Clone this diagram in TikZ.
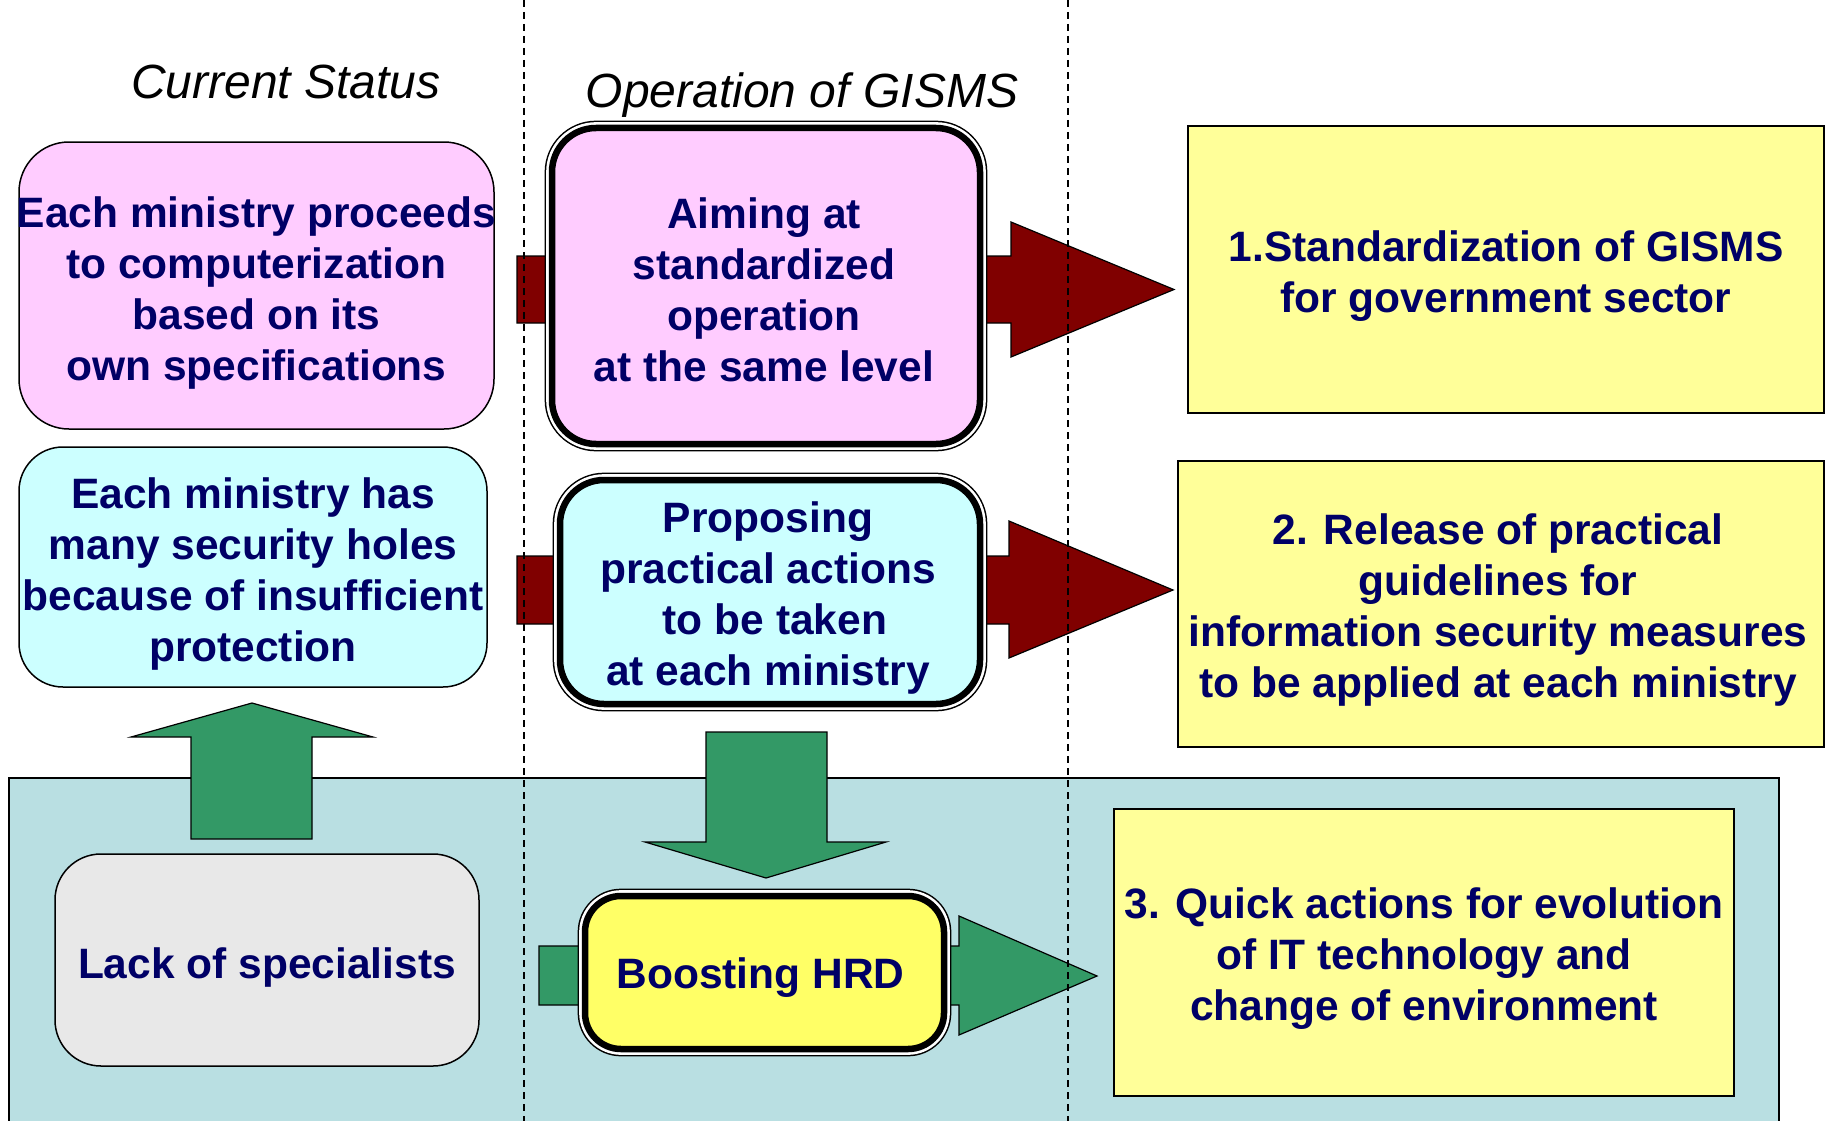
\documentclass[tikz,border=0pt]{standalone}
\usepackage{fontspec}
\setmainfont{Liberation Sans}
\usetikzlibrary{backgrounds}
\definecolor{navy}{HTML}{000066}
\definecolor{pinkf}{HTML}{FFCCFF}
\definecolor{cyanf}{HTML}{CCFFFF}
\definecolor{yelf}{HTML}{FFFF99}
\definecolor{hrdf}{HTML}{FFFF66}
\definecolor{grayf}{HTML}{E8E8E8}
\definecolor{tealf}{HTML}{B9DFE2}
\definecolor{darkred}{HTML}{800000}
\definecolor{greenf}{HTML}{339966}
\begin{document}
\begin{tikzpicture}[x=1pt,y=-1pt,
  txt/.style={font=\fontsize{42.5}{51}\selectfont\bfseries, text=navy, align=center, inner sep=0pt, outer sep=0pt},
  boxbase/.style={inner sep=0pt, outer sep=0pt},
  softbox/.style={boxbase, draw=black, line width=1.5pt, rounded corners=#1},
  dblbox/.style={boxbase, draw=black, line width=6.5pt, rounded corners=44pt,
    preaction={draw=black, line width=14.7pt},
    preaction={draw=white, line width=11.7pt}},
  sqbox/.style={boxbase, draw=black, line width=2pt, fill=yelf},
  head/.style={font=\fontsize{48}{58}\selectfont\itshape, inner sep=0pt},
  redarrow/.style={fill=darkred, draw=black, line width=1.2pt, line join=miter},
  greenarrow/.style={fill=greenf, draw=black, line width=1.2pt, line join=miter},
  sep/.style={draw=black, line width=1.3pt, dash pattern=on 7pt off 5pt}
]
\useasboundingbox (0,0) rectangle (1830,1121);
\clip (0,0) rectangle (1830,1121);

% headings
\node[head] (h1) at (286,82) {Current Status};
\node[head] (h2) at (802,95) {Operation of GISMS};

% left column
\node[softbox=50pt, fill=pinkf, minimum width=475pt, minimum height=287pt] (lp) at (256.5,285.5) {};
\node[txt] (lpt) at ([yshift=-8pt]lp.center)
  {Each ministry proceeds\\to computerization\\based on its\\own specifications};
\node[softbox=44pt, fill=cyanf, minimum width=468pt, minimum height=240pt] (lc) at (253,567) {};
\node[txt] (lct) at ([yshift=-7pt]lc.center)
  {Each ministry has\\many security holes\\because of insufficient\\protection};

% middle column
\node[dblbox, fill=pinkf, minimum width=428pt, minimum height=316pt] (mp) at (766,286) {};
\node[txt] (mpt) at ([xshift=-2pt,yshift=-4pt]mp.center)
  {Aiming at\\standardized\\operation\\at the same level};
\node[dblbox, fill=cyanf, minimum width=420pt, minimum height=224pt] (mc) at (770,592) {};
\node[txt] (mct) at ([xshift=-2pt,yshift=-6pt]mc.center)
  {Proposing\\practical actions\\\hspace*{14pt}to be taken\\at each ministry};

% right column
\node[sqbox, minimum width=636pt, minimum height=287pt] (r1) at (1506,269.5) {};
\node[txt] (r1t) at ([yshift=-7pt]r1.center)
  {1.Standardization of GISMS\\for government sector};
\node[sqbox, minimum width=646pt, minimum height=286pt] (r2) at (1501,604) {};
\node[txt] (r2t) at ([xshift=-3pt,yshift=-6pt]r2.center)
  {2. Release of practical\\guidelines for\\information security measures\\to be applied at each ministry};

% bottom band
\node[softbox=46pt, fill=grayf, minimum width=424pt, minimum height=212pt] (ls) at (267,960) {};
\node[txt] (lst) at ([yshift=-7pt]ls.center) {Lack of specialists};
\node[dblbox, rounded corners=36pt, fill=hrdf, minimum width=359pt, minimum height=153pt] (hrd) at (764.5,972.5) {};
\node[txt] (hrdt) at ([xshift=-4pt,yshift=-5pt]hrd.center) {Boosting HRD};
\node[sqbox, minimum width=620pt, minimum height=287pt] (r3) at (1424,952.5) {};
\node[txt] (r3t) at ([yshift=-6pt]r3.center)
  {3. Quick actions for evolution\\of IT technology and\\change of environment};

\begin{pgfonlayer}{background}
  \draw[fill=tealf, draw=black, line width=1.5pt] (9,1130) -- (9,778) -- (1779,778) -- (1779,1130);
  % red arrows
  \draw[redarrow] (517,256) -- (1011,256) -- (1011,222) -- (1174,289.5) -- (1011,357) -- (1011,323) -- (517,323) -- cycle;
  \draw[redarrow] (517,556) -- (1009,556) -- (1009,521) -- (1173,590) -- (1009,658) -- (1009,624) -- (517,624) -- cycle;
  % green arrows
  \draw[greenarrow] (191,839) -- (191,737) -- (131,737) -- (252,703) -- (373,737) -- (312,737) -- (312,839) -- cycle;
  \draw[greenarrow] (706,732) -- (827,732) -- (827,842) -- (886,842) -- (766,878) -- (645,842) -- (706,842) -- cycle;
  \draw[greenarrow] (539,946) -- (959,946) -- (959,916) -- (1097,976) -- (959,1035) -- (959,1005) -- (539,1005) -- cycle;
\end{pgfonlayer}

% column separators
\coordinate (s1t) at (524,0);
\coordinate (s1b) at (524,1121);
\coordinate (s2t) at (1068,0);
\coordinate (s2b) at (1068,1121);
\draw[sep] (s1t) -- (s1b);
\draw[sep] (s2t) -- (s2b);
\end{tikzpicture}
\end{document}
